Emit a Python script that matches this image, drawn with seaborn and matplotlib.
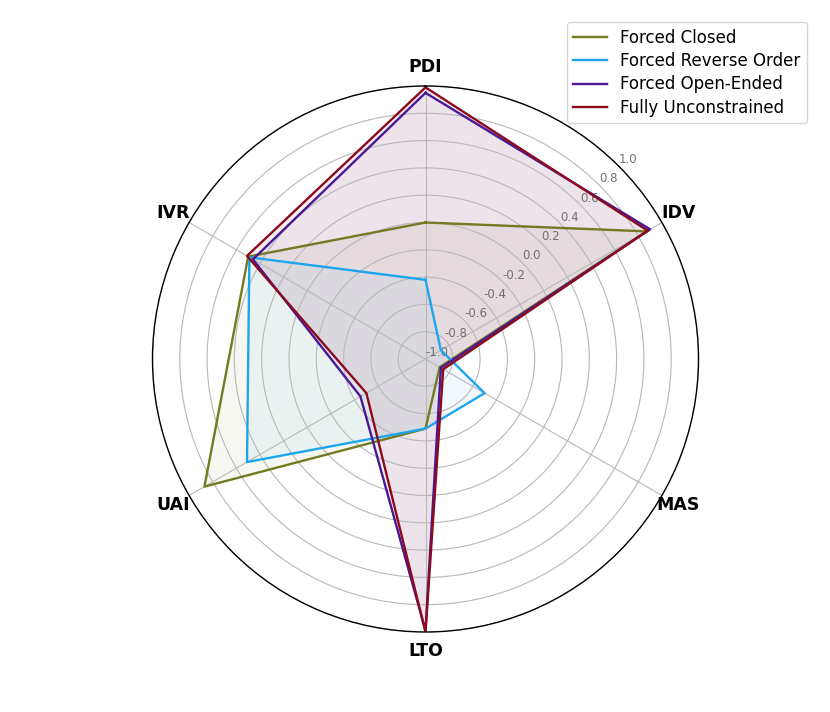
import numpy as np
import pandas as pd
import matplotlib
matplotlib.use("Agg")
import matplotlib.pyplot as plt
import seaborn as sns

categories = ["PDI", "IDV", "MAS", "LTO", "UAI", "IVR"]
series_names = ["Forced Closed", "Forced Reverse Order", "Forced Open-Ended", "Fully Unconstrained"]
forced_closed = [0.00, 0.87, -0.88, -0.49, 0.87, 0.50]
forced_reverse = [-0.42, -0.87, -0.50, -0.49, 0.51, 0.49]
forced_open = [0.95, 0.90, -0.87, 0.99, -0.45, 0.46]
fully_unconstrained = [0.99, 0.88, -0.85, 1.00, -0.50, 0.51]
colors = ["#737a1f", "#1ea5f0", "#4a1896", "#8c0a1e"]
r_ticks = [-1.0, -0.8, -0.6, -0.4, -0.2, 0.0, 0.2, 0.4, 0.6, 0.8, 1.0]

values = [forced_closed, forced_reverse, forced_open, fully_unconstrained]
n = len(categories)
angles = np.linspace(0, 2 * np.pi, n, endpoint=False)

rows = []
for name, vals in zip(series_names, values):
    for i in range(n + 1):
        rows.append({"series": name, "theta": angles[i % n] if i < n else 2 * np.pi,
                     "value": vals[i % n], "order": i})
df = pd.DataFrame(rows)

fig = plt.figure(figsize=(8.3, 7.12), dpi=100)
ax = fig.add_axes([152.5 / 830, 80 / 712, 546 / 830, 546 / 712], projection="polar")
ax.set_theta_offset(np.pi / 2)
ax.set_theta_direction(-1)

sns.lineplot(data=df, x="theta", y="value", hue="series", palette=colors,
             hue_order=series_names, sort=False, estimator=None, units="series",
             linewidth=1.7, ax=ax)
for name, c in zip(series_names, colors):
    sub = df[df.series == name]
    ax.fill(sub.theta, sub.value, color=c, alpha=0.06)

ax.set_ylim(-1.0, 1.0)
ax.set_yticks(r_ticks)
ax.set_yticklabels([f"{t:.1f}" for t in r_ticks], fontsize=8.5, color="#707070")
ax.set_rlabel_position(45)
ax.set_xticks(angles)
ax.set_xticklabels(categories, fontsize=12.5, fontweight="bold")
ax.tick_params(axis="x", pad=3)
ax.set_xlabel("")
ax.set_ylabel("")
ax.grid(True, color="#b8b8b8", linewidth=0.8)
ax.spines["polar"].set_color("black")
ax.spines["polar"].set_linewidth(1.0)

handles, labels = ax.get_legend_handles_labels()
ax.legend(handles, labels, loc="upper right", bbox_to_anchor=(807 / 830, 1 - 22 / 712),
          bbox_transform=fig.transFigure, borderaxespad=0, fontsize=12,
          labelspacing=0.32, frameon=True)

fig.savefig("out.png", dpi=100)
